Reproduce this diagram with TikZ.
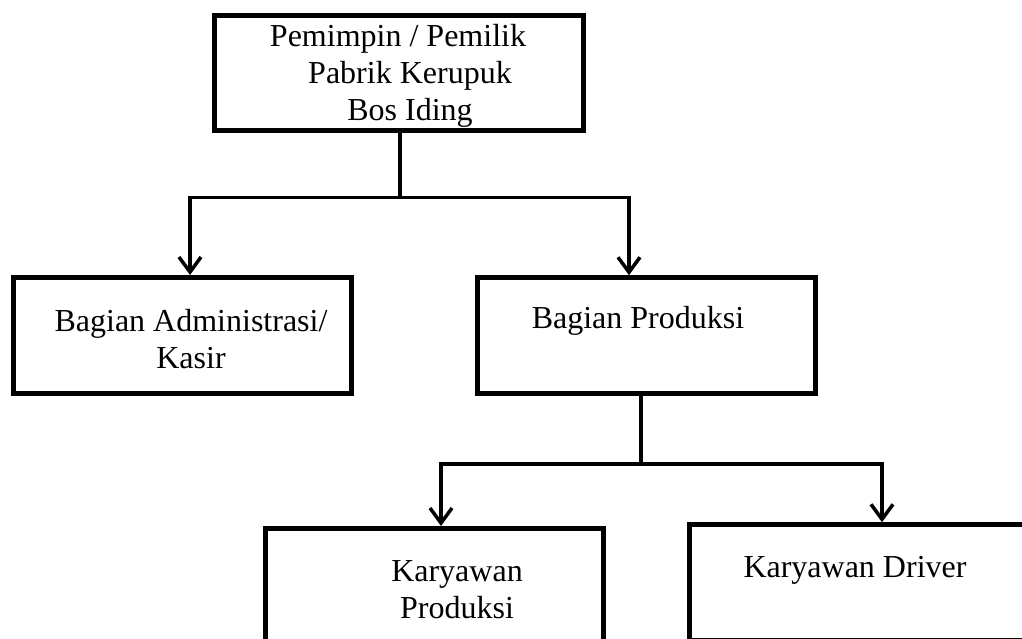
\documentclass[tikz,border=0pt]{standalone}
\usepackage{fontspec}
\setmainfont{Liberation Serif}
\usetikzlibrary{arrows.meta,calc,positioning}

\begin{document}
\begin{tikzpicture}[
        %We set the units to page pixels and define some styles
        x=1pt, y=-1pt,
        box/.style={draw, rectangle, line width=5pt, inner sep=0pt, minimum height=116pt},
        label text/.style={font=\fontsize{32}{37}\selectfont, align=center, inner sep=0pt, anchor=base},
        link/.style={line width=3.5pt},
        arrow link/.style={link, -{Straight Barb[length=15pt,width=22pt]}}
    ]
    % Important sizes are defined
    \newcommand\boxw{338}

    % Page
    \useasboundingbox (0,0) rectangle (1022,639);
    \clip (0,0) rectangle (1022,639);

    % Boxes
    \node[box, minimum width=369pt, minimum height=115.5pt] (owner) at (398.5,73.25) {};
    \node[box, minimum width=\boxw pt] (admin) at (182.5,335.5) {};
    \node[box, minimum width=\boxw pt] (prod) at (646.5,335.7) {};
    \node[box, minimum width=\boxw pt] (kprod) at (434,586.5) {};
    \node[box, minimum width=\boxw pt] (kdriver) at (858.5,582.75) {};

    % Texts (placed by the baseline of their last line)
    \node[label text] (ownertext) at (398,121) {Pemimpin / Pemilik\\\hspace*{24pt}Pabrik Kerupuk\\\hspace*{24pt}Bos Iding};
    \node[label text] (admintext) at (191,368) {Bagian Administrasi/\\Kasir};
    \node[label text] (prodtext) at (638,328) {Bagian Produksi};
    \node[label text] (kprodtext) at (457,618) {Karyawan\\Produksi};
    \node[label text] (kdrivertext) at (855,577) {Karyawan Driver};

    % Connectors
    \coordinate (j1) at (400,197.5);
    \coordinate (j2) at (641,464);
    \draw[link] (j1 |- owner.south) -- (j1);
    \draw[arrow link] (j1) -| ([xshift=7.5pt]admin.north);
    \draw[arrow link] (j1) -| ([xshift=-17.5pt]prod.north);
    \draw[link] (j2 |- prod.south) -- (j2);
    \draw[arrow link] (j2) -| ([xshift=7pt]kprod.north);
    \draw[arrow link] (j2) -| ([xshift=23.5pt]kdriver.north);
\end{tikzpicture}
\end{document}
